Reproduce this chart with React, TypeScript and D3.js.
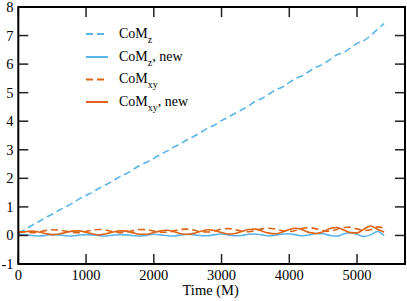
import React from "react";
import * as d3 from "d3";

const times: number[] = d3.range(0, 5401, 100);

const comZ: number[] = [
  0.08, 0.2, 0.35, 0.48, 0.62, 0.74, 0.88, 1.0, 1.13, 1.28,
  1.4, 1.52, 1.66, 1.78, 1.92, 2.06, 2.17, 2.32, 2.46, 2.57,
  2.7, 2.84, 2.96, 3.1, 3.22, 3.36, 3.48, 3.62, 3.76, 3.87,
  4.02, 4.14, 4.28, 4.4, 4.54, 4.7, 4.8, 4.95, 5.1, 5.2,
  5.36, 5.5, 5.6, 5.76, 5.9, 6.0, 6.16, 6.32, 6.4, 6.56,
  6.72, 6.82, 7.0, 7.22, 7.42,
];

const comZNew: number[] = [
  0.05, 0.02, 0.0, -0.02, 0.0, 0.03, 0.02, -0.01, -0.02, 0.01,
  0.03, 0.02, -0.01, -0.02, 0.01, 0.03, 0.02, -0.01, -0.02, 0.01,
  0.04, 0.02, -0.01, -0.02, 0.02, 0.04, 0.02, -0.01, -0.01, 0.03,
  0.05, 0.02, -0.01, 0.0, 0.04, 0.05, 0.02, -0.01, 0.01, 0.05,
  0.06, 0.02, -0.01, 0.02, 0.07, 0.06, 0.0, -0.02, 0.05, 0.1,
  0.04, -0.04, 0.02, 0.14, 0.0,
];

const comXY: number[] = [
  0.15, 0.12, 0.1, 0.12, 0.17, 0.2, 0.19, 0.15, 0.11, 0.1,
  0.14, 0.19, 0.21, 0.18, 0.13, 0.1, 0.12, 0.17, 0.21, 0.2,
  0.15, 0.11, 0.11, 0.16, 0.21, 0.22, 0.18, 0.13, 0.12, 0.16,
  0.22, 0.24, 0.2, 0.15, 0.13, 0.17, 0.23, 0.25, 0.22, 0.16,
  0.14, 0.18, 0.25, 0.27, 0.23, 0.17, 0.15, 0.21, 0.28, 0.29,
  0.23, 0.17, 0.2, 0.3, 0.26,
];

const comXYNew: number[] = [
  0.1, 0.13, 0.15, 0.12, 0.07, 0.03, 0.05, 0.1, 0.15, 0.16,
  0.11, 0.05, 0.02, 0.06, 0.12, 0.16, 0.15, 0.09, 0.04, 0.04,
  0.1, 0.16, 0.18, 0.13, 0.06, 0.04, 0.08, 0.15, 0.2, 0.17,
  0.1, 0.05, 0.07, 0.14, 0.21, 0.22, 0.15, 0.08, 0.06, 0.12,
  0.21, 0.25, 0.19, 0.1, 0.07, 0.13, 0.24, 0.28, 0.2, 0.1,
  0.09, 0.22, 0.33, 0.22, 0.12,
];

const xTicks: number[] = [0, 1000, 2000, 3000, 4000, 5000];
const yTicks: number[] = [-1, 0, 1, 2, 3, 4, 5, 6, 7, 8];

const BLUE = "#5bb5ea";
const ORANGE = "#dd6415";

const series = [
  { name: "CoM", sub: "z", suffix: "", values: comZ, color: BLUE, dash: "7,4" },
  { name: "CoM", sub: "z", suffix: ", new", values: comZNew, color: BLUE, dash: "" },
  { name: "CoM", sub: "xy", suffix: "", values: comXY, color: ORANGE, dash: "7,4" },
  { name: "CoM", sub: "xy", suffix: ", new", values: comXYNew, color: ORANGE, dash: "" },
];

const FONT = '"Liberation Serif", "Times New Roman", serif';

export default function App() {
  const W = 407, H = 301;
  const left = 18.3, right = 405, top = 7, bottom = 264;
  const x = d3.scaleLinear().domain([0, 5708]).range([left, right]);
  const y = d3.scaleLinear().domain([-1, 8]).range([bottom, top]);
  const line = d3
    .line<number>()
    .x((_, i) => x(times[i]))
    .y((d) => y(d))
    .curve(d3.curveMonotoneX);
  const tickLen = 10;
  const legendRows = [34, 57, 79.5, 102];
  const ts = { fontFamily: FONT };

  return (
    <svg
      width={W}
      height={H}
      style={{ position: "absolute", left: 0, top: 0, background: "#fff" }}
    >
      <defs>
        <clipPath id="plot">
          <rect x={left} y={top} width={right - left} height={bottom - top} />
        </clipPath>
      </defs>
      <rect x={0} y={0} width={W} height={H} fill="#fff" />
      <g clipPath="url(#plot)">
        {series.map((s, i) => (
          <path
            key={i}
            d={line(s.values) || ""}
            fill="none"
            stroke={s.color}
            strokeWidth={1.6}
            strokeDasharray={s.dash || undefined}
          />
        ))}
      </g>
      <g stroke="#222" strokeWidth={1.5}>
        {xTicks.map((t) => (
          <g key={"xt" + t}>
            <line x1={x(t)} x2={x(t)} y1={bottom} y2={bottom - tickLen} />
            <line x1={x(t)} x2={x(t)} y1={top} y2={top + tickLen} />
          </g>
        ))}
        {yTicks.map((t) => (
          <g key={"yt" + t}>
            <line x1={left} x2={left + tickLen} y1={y(t)} y2={y(t)} />
            <line x1={right} x2={right - tickLen} y1={y(t)} y2={y(t)} />
          </g>
        ))}
      </g>
      <rect
        x={left}
        y={top}
        width={right - left}
        height={bottom - top}
        fill="none"
        stroke="#000"
        strokeWidth={2}
      />
      <g fontSize={14.5} fill="#000">
        {xTicks.map((t) => (
          <text key={"xl" + t} x={x(t)} y={279.5} textAnchor="middle" style={ts}>
            {t}
          </text>
        ))}
        {yTicks.map((t) => (
          <text key={"yl" + t} x={13.5} y={y(t) + 5} textAnchor="end" style={ts}>
            {t}
          </text>
        ))}
        <text x={(left + right) / 2 - 1} y={295} textAnchor="middle" style={ts}>
          Time (M)
        </text>
      </g>
      <g>
        {series.map((s, i) => (
          <g key={"lg" + i}>
            <line
              x1={86}
              x2={108}
              y1={legendRows[i]}
              y2={legendRows[i]}
              stroke={s.color}
              strokeWidth={2}
              strokeDasharray={s.dash || undefined}
            />
            <text x={119} y={legendRows[i] + 3.5} fontSize={14} fill="#000" style={ts}>
              {s.name}
              <tspan fontSize={10} dy={5}>
                {s.sub}
              </tspan>
              <tspan dy={-5}>{s.suffix}</tspan>
            </text>
          </g>
        ))}
      </g>
    </svg>
  );
}
